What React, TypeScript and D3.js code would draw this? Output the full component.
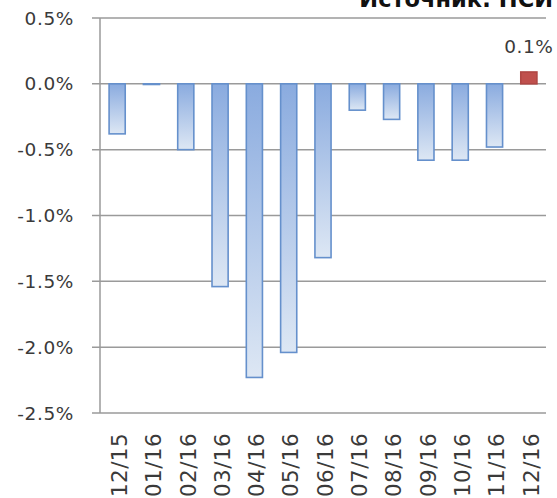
import React from "react";
import * as d3 from "d3";

const categories = ["12/15", "01/16", "02/16", "03/16", "04/16", "05/16", "06/16", "07/16", "08/16", "09/16", "10/16", "11/16", "12/16"];
const values = [-0.38, -0.005, -0.5, -1.54, -2.23, -2.04, -1.32, -0.2, -0.27, -0.58, -0.58, -0.48, 0.09];
const yTicks = [0.5, 0.0, -0.5, -1.0, -1.5, -2.0, -2.5];
const lastLabel = "0.1%";
const title = "Источник: НСИ";

const W = 557;
const H = 498;
const FONT = "'DejaVu Sans', sans-serif";

export default function App() {
  const x = d3.scaleBand<string>().domain(categories).range([100, 546]).paddingInner(0.53).paddingOuter(0.265);
  const y = d3.scaleLinear().domain([-2.5, 0.5]).range([413, 18]);
  const fmt = (v: number) => v.toFixed(1) + "%";
  const lastIdx = values.length - 1;

  return (
    <svg width={W} height={H} style={{ position: "absolute", left: 0, top: 0, background: "#fff" }}>
      <defs>
        <linearGradient id="blueGrad" x1="0" y1="0" x2="0" y2="1">
          <stop offset="0%" stopColor="#8aabdf" />
          <stop offset="100%" stopColor="#dde7f4" />
        </linearGradient>
      </defs>
      {/* gridlines */}
      {yTicks.map((t) => (
        <g key={t}>
          <line x1={92} x2={546} y1={y(t)} y2={y(t)} stroke="#9a9a9a" strokeWidth={1.5} />
          <text
            x={74}
            y={y(t)}
            dy="0.36em"
            textAnchor="end"
            fontFamily={FONT}
            fontSize={18.5}
            letterSpacing={0.6}
            fill="#3a3a3a"
          >
            {fmt(t)}
          </text>
        </g>
      ))}
      {/* y axis line */}
      <line x1={100} x2={100} y1={y(0.5)} y2={y(-2.5)} stroke="#9a9a9a" strokeWidth={1.5} />
      {/* bars */}
      {values.map((v, i) => {
        const bx = x(categories[i])!;
        const top = y(Math.max(0, v));
        const h = Math.abs(y(v) - y(0));
        const pos = v > 0;
        return (
          <rect
            key={categories[i]}
            x={bx}
            y={top}
            width={x.bandwidth()}
            height={Math.max(h, 0.5)}
            fill={pos ? "#c0504d" : "url(#blueGrad)"}
            stroke={pos ? "#b04744" : "#6590cc"}
            strokeWidth={1.6}
          />
        );
      })}
      {/* data label */}
      <text
        x={x(categories[lastIdx])! + x.bandwidth() / 2}
        y={y(values[lastIdx]) - 19}
        textAnchor="middle"
        fontFamily={FONT}
        fontSize={18.5}
        letterSpacing={0.6}
        fill="#3a3a3a"
      >
        {lastLabel}
      </text>
      {/* x labels */}
      {categories.map((c) => {
        const cx = x(c)! + x.bandwidth() / 2;
        return (
          <text
            key={c}
            transform={`translate(${cx + 2},433) rotate(-90)`}
            textAnchor="end"
            dy="0.36em"
            fontFamily={FONT}
            fontSize={21.5}
            letterSpacing={0.4}
            fill="#3a3a3a"
          >
            {c}
          </text>
        );
      })}
      {/* title, clipped at top as in the source image */}
      <text x={553} y={7} textAnchor="end" fontFamily={FONT} fontSize={22.5} fontWeight="bold" fill="#111">
        {title}
      </text>
    </svg>
  );
}
